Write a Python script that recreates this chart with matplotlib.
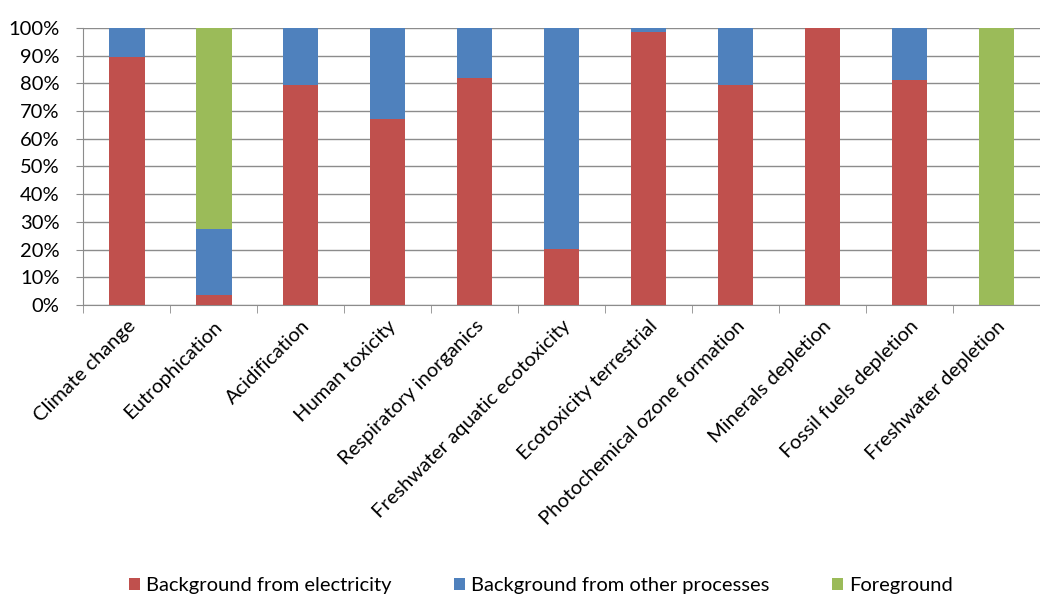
import matplotlib
matplotlib.use('Agg')
import matplotlib.pyplot as plt
import numpy as np
from matplotlib.ticker import PercentFormatter, FixedLocator

categories = ['Climate change', 'Eutrophication', 'Acidification', 'Human toxicity',
              'Respiratory inorganics', 'Freshwater aquatic ecotoxicity',
              'Ecotoxicity terrestrial', 'Photochemical ozone formation',
              'Minerals depletion', 'Fossil fuels depletion', 'Freshwater depletion']
electricity = [89.5, 3.6, 79.4, 67.1, 81.9, 20.2, 98.4, 79.4, 100.0, 81.2, 0.0]
other = [10.5, 23.8, 20.6, 32.9, 18.1, 79.8, 1.6, 20.6, 0.0, 18.8, 0.0]
foreground = [0.0, 72.6, 0.0, 0.0, 0.0, 0.0, 0.0, 0.0, 0.0, 0.0, 100.0]

colors = {'elec': '#C0504D', 'other': '#4F81BD', 'fg': '#9BBB59'}

plt.rcParams['font.family'] = ['Lato', 'DejaVu Sans']
FS = 14.5

fig = plt.figure(figsize=(10.4, 5.94), dpi=100)
ax = fig.add_axes([0.08, 0.4865, 0.92, 0.4665])

x = np.arange(len(categories))
w = 0.41
ax.bar(x, electricity, w, color=colors['elec'], label='Background from electricity', zorder=3)
ax.bar(x, other, w, bottom=electricity, color=colors['other'],
       label='Background from other processes', zorder=3)
bottom2 = np.array(electricity) + np.array(other)
ax.bar(x, foreground, w, bottom=bottom2, color=colors['fg'], label='Foreground', zorder=3)

ax.set_xlim(-0.5, len(categories) - 0.5)
ax.set_ylim(0, 100)
ax.set_yticks(np.arange(0, 101, 10))
ax.yaxis.set_major_formatter(PercentFormatter(decimals=0))
ax.grid(axis='y', color='#8c8c8c', lw=1.0, zorder=0)

ax.set_xticks(x)
ax.set_xticklabels(categories, rotation=45, ha='right', rotation_mode='anchor', fontsize=FS)
ax.tick_params(axis='x', length=0, pad=9)
ax.xaxis.set_minor_locator(FixedLocator(np.arange(-0.5, len(categories), 1.0)))
ax.tick_params(axis='x', which='minor', length=6, color='#8c8c8c')
ax.tick_params(axis='y', labelsize=FS, length=5, color='#8c8c8c', pad=12)

for s in ['top', 'right']:
    ax.spines[s].set_visible(False)
ax.spines['left'].set_color('#8c8c8c')
ax.spines['bottom'].set_color('#8c8c8c')

fig.legend(loc='lower center', bbox_to_anchor=(0.52, -0.03), ncol=3, frameon=False,
           fontsize=FS, handlelength=0.55, handleheight=0.55, handletextpad=0.3,
           columnspacing=3.1)

fig.savefig('out.png', dpi=100)
